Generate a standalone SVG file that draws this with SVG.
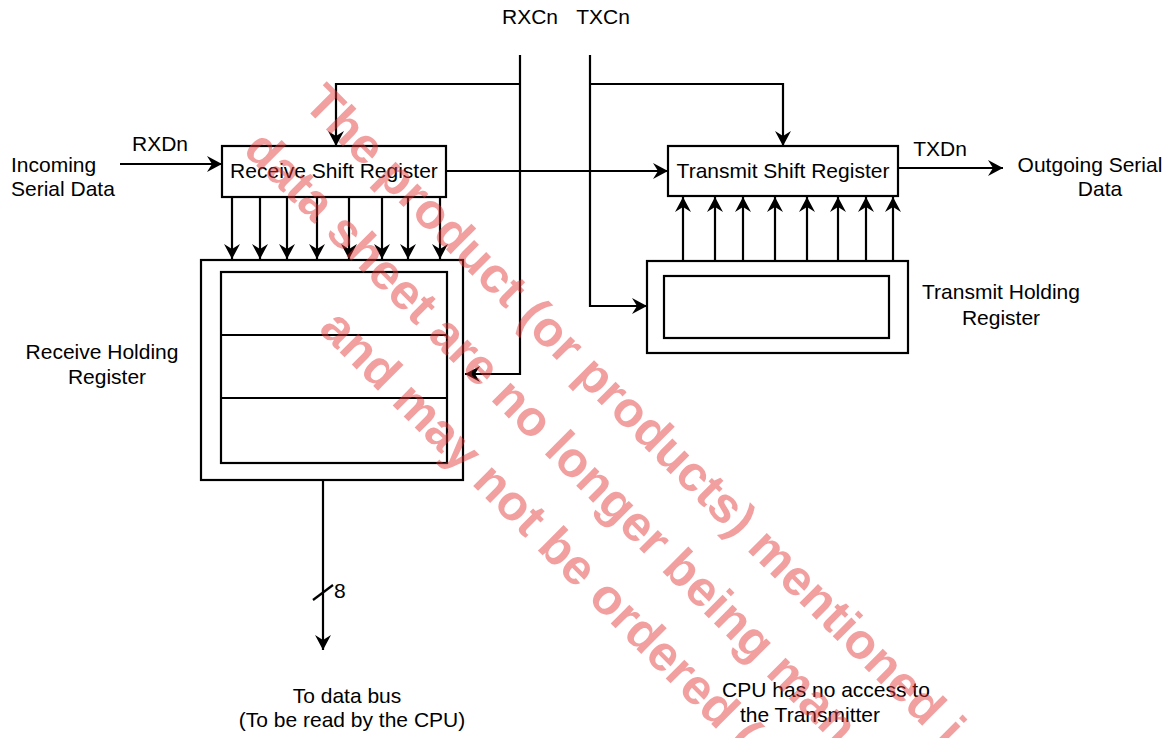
<svg xmlns="http://www.w3.org/2000/svg" width="1165" height="738" viewBox="0 0 1165 738">
<style>
.t{font-family:"Liberation Sans",Arial,sans-serif;font-size:21px;fill:#000}
.m{text-anchor:middle}
.box{fill:#fff;stroke:#000;stroke-width:2.2}
.ln{fill:none;stroke:#000;stroke-width:2.2}
.wm{font-family:"Liberation Sans",Arial,sans-serif;font-weight:bold;font-size:50px;fill:#e13434;fill-opacity:0.47}
</style>
<defs>
<marker id="ah" markerUnits="userSpaceOnUse" markerWidth="17" markerHeight="17" refX="15" refY="8" orient="auto">
<path d="M0,0 L15,8 L0,16 L5,8 z" fill="#000"/>
</marker>
</defs>
<rect width="1165" height="738" fill="#fff"/>
<g id="rsr">
<rect class="box" x="222" y="146" width="224" height="51"/>
<text class="t m" x="334" y="178">Receive Shift Register</text>
</g>
<g id="tsr">
<rect class="box" x="668" y="146" width="230" height="50"/>
<text class="t m" x="783" y="178">Transmit Shift Register</text>
</g>
<g id="rhr">
<rect class="box" x="201" y="260" width="262" height="220"/>
<rect class="box" x="221" y="272" width="226" height="191"/>
<line class="ln" x1="221" y1="335" x2="447" y2="335"/>
<line class="ln" x1="221" y1="398" x2="447" y2="398"/>
</g>
<g id="thr">
<rect class="box" x="647" y="261" width="261" height="92"/>
<rect class="box" x="664" y="276" width="225" height="62"/>
</g>
<g id="labels">
<text class="t m" x="530" y="24">RXCn</text>
<text class="t m" x="603" y="24">TXCn</text>
<text class="t m" x="160" y="151">RXDn</text>
<text class="t" x="11" y="172">Incoming</text>
<text class="t" x="11" y="196">Serial Data</text>
<text class="t m" x="940" y="156">TXDn</text>
<text class="t m" x="1090" y="172">Outgoing Serial</text>
<text class="t m" x="1100" y="196">Data</text>
<text class="t m" x="1001" y="299">Transmit Holding</text>
<text class="t m" x="1001" y="325">Register</text>
<text class="t m" x="102" y="359">Receive Holding</text>
<text class="t m" x="107" y="384">Register</text>
<text class="t" x="334" y="598">8</text>
<text class="t m" x="347" y="703">To data bus</text>
<text class="t m" x="352" y="727">(To be read by the CPU)</text>
<text class="t m" x="826" y="697">CPU has no access to</text>
<text class="t m" x="810" y="722">the Transmitter</text>
</g>
<g id="connectors" class="ln" marker-end="url(#ah)">
<path d="M120,164 L222,164"/>
<path d="M520,55 L520,374 L465,374"/>
<path d="M520,84 L336,84 L336,146"/>
<path d="M590,55 L590,306 L647,306"/>
<path d="M590,84 L783,84 L783,146"/>
<path d="M446,171 L668,171"/>
<path d="M898,168 L1003,168"/>
<path d="M232,197 L232,259"/>
<path d="M260,197 L260,259"/>
<path d="M287,197 L287,259"/>
<path d="M317,197 L317,259"/>
<path d="M349,197 L349,259"/>
<path d="M382,197 L382,259"/>
<path d="M408,197 L408,259"/>
<path d="M440,197 L440,259"/>
<path d="M683,261 L683,197"/>
<path d="M715,261 L715,197"/>
<path d="M743,261 L743,197"/>
<path d="M775,261 L775,197"/>
<path d="M807,261 L807,197"/>
<path d="M838,261 L838,197"/>
<path d="M866,261 L866,197"/>
<path d="M893,261 L893,197"/>
<path d="M323,480 L323,650"/>
<path d="M313,600 L333,585" marker-end="none"/>
</g>
<g id="watermark" transform="rotate(45)">
<text class="wm" x="288" y="-139">The product (or products) mentioned i</text>
<text class="wm" x="278" y="-64">data sheet are no longer being man</text>
<text class="wm" x="458" y="9">and may not be ordered (</text>
</g>
</svg>
